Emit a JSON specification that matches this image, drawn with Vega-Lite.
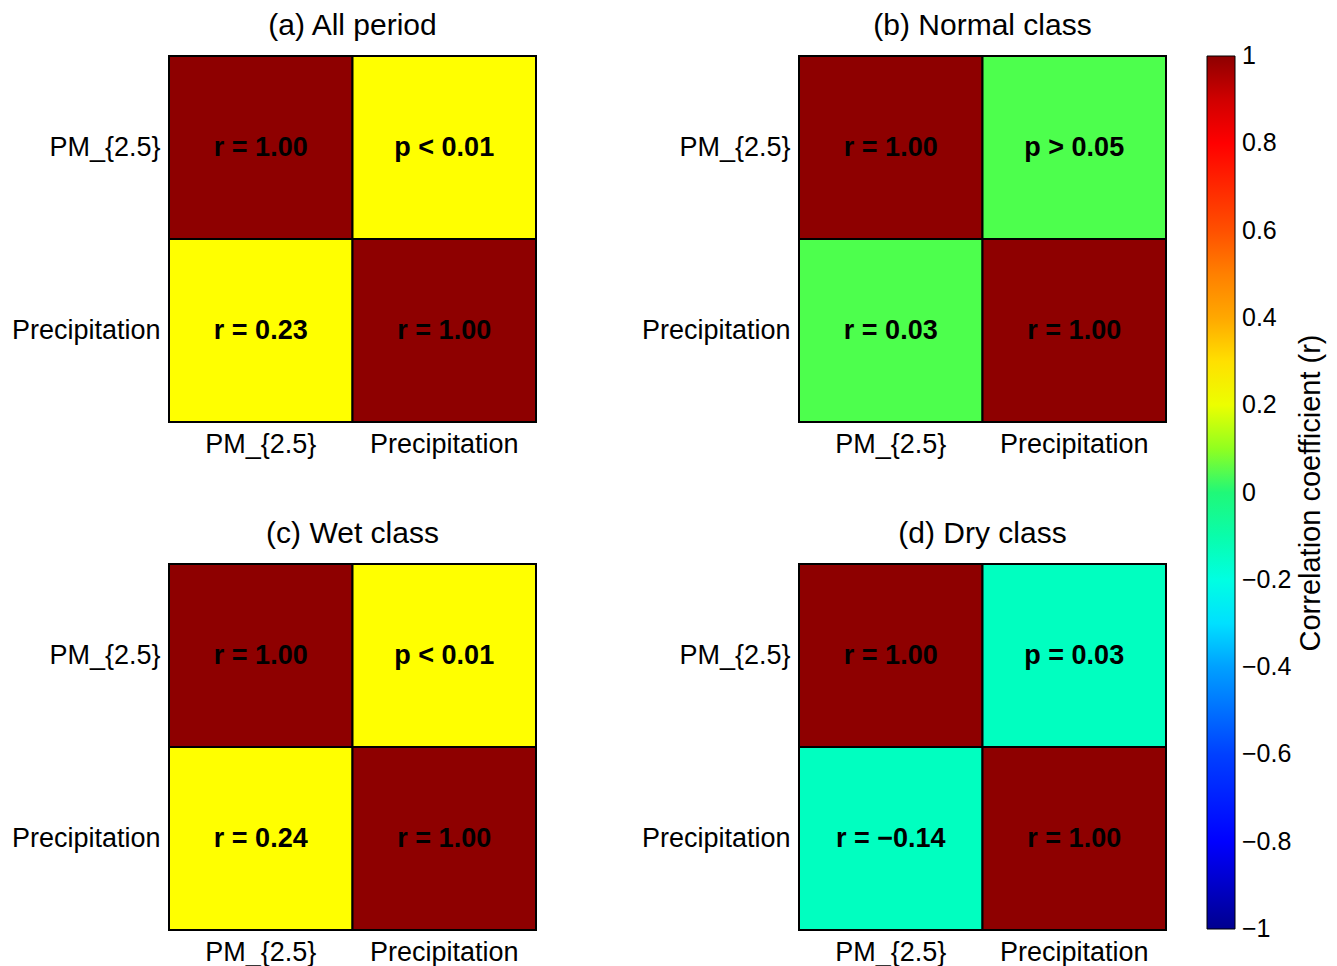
{
  "$schema": "https://vega.github.io/schema/vega-lite/v6.json",
  "padding": {"left": 10, "top": 10, "right": 0, "bottom": 0},
  "background": "white",
  "data": {"values": [
    {"panel": "a", "col": "PM_{2.5}", "row": "PM_{2.5}", "r": 1.0, "label": "r = 1.00"},
    {"panel": "a", "col": "Precipitation", "row": "PM_{2.5}", "r": 0.23, "label": "p < 0.01"},
    {"panel": "a", "col": "PM_{2.5}", "row": "Precipitation", "r": 0.23, "label": "r = 0.23"},
    {"panel": "a", "col": "Precipitation", "row": "Precipitation", "r": 1.0, "label": "r = 1.00"},
    {"panel": "b", "col": "PM_{2.5}", "row": "PM_{2.5}", "r": 1.0, "label": "r = 1.00"},
    {"panel": "b", "col": "Precipitation", "row": "PM_{2.5}", "r": 0.03, "label": "p > 0.05"},
    {"panel": "b", "col": "PM_{2.5}", "row": "Precipitation", "r": 0.03, "label": "r = 0.03"},
    {"panel": "b", "col": "Precipitation", "row": "Precipitation", "r": 1.0, "label": "r = 1.00"},
    {"panel": "c", "col": "PM_{2.5}", "row": "PM_{2.5}", "r": 1.0, "label": "r = 1.00"},
    {"panel": "c", "col": "Precipitation", "row": "PM_{2.5}", "r": 0.24, "label": "p < 0.01"},
    {"panel": "c", "col": "PM_{2.5}", "row": "Precipitation", "r": 0.24, "label": "r = 0.24"},
    {"panel": "c", "col": "Precipitation", "row": "Precipitation", "r": 1.0, "label": "r = 1.00"},
    {"panel": "d", "col": "PM_{2.5}", "row": "PM_{2.5}", "r": 1.0, "label": "r = 1.00"},
    {"panel": "d", "col": "Precipitation", "row": "PM_{2.5}", "r": -0.14, "label": "p = 0.03"},
    {"panel": "d", "col": "PM_{2.5}", "row": "Precipitation", "r": -0.14, "label": "r = \u22120.14"},
    {"panel": "d", "col": "Precipitation", "row": "Precipitation", "r": 1.0, "label": "r = 1.00"}
  ]},
  "columns": 2,
  "spacing": {"row": 60, "column": 102},
  "concat": [
    {
      "title": {"text": "(a) All period"},
      "width": 367, "height": 366,
      "transform": [{"filter": {"field": "panel", "equal": "a"}}],
      "encoding": {
        "x": {"field": "col", "type": "nominal", "sort": ["PM_{2.5}", "Precipitation"], "title": null},
        "y": {"field": "row", "type": "nominal", "sort": ["PM_{2.5}", "Precipitation"], "title": null}
      },
      "layer": [
        {"mark": {"type": "rect", "stroke": "black", "strokeWidth": 2}, "encoding": {"color": {"field": "r", "type": "quantitative", "title": "Correlation coefficient (r)",
          "scale": {"domain": [-1, -0.9, -0.8, -0.6, -0.4, -0.3, -0.25, -0.14, 0, 0.03, 0.1, 0.18, 0.22, 0.25, 0.3, 0.4, 0.5, 0.6, 0.7, 0.8, 0.9, 1],
                    "range": ["#00008F", "#0000C8", "#0000FF", "#0040FF", "#00A0FF", "#00E0FF", "#00FFFF", "#00FFC0", "#20F878", "#4DFF4D", "#90FF20", "#D8FF00", "#FFFF00", "#FFFF00", "#FFE000", "#FFA800", "#FF8000", "#FF5000", "#FF2800", "#FF0000", "#D00000", "#8E0000"], "interpolate": "rgb"},
          "legend": {"orient": "none", "legendX": 1038, "legendY": 0, "direction": "vertical",
            "gradientLength": 873, "gradientThickness": 28, "gradientStrokeColor": "black", "gradientStrokeWidth": 1,
            "values": [-1, -0.8, -0.6, -0.4, -0.2, 0, 0.2, 0.4, 0.6, 0.8, 1], "format": "~g",
            "labelFontSize": 25, "labelColor": "black", "labelOffset": 7, "labelOverlap": false,
            "titleFontSize": 29, "titleFontWeight": "normal", "titleColor": "black", "titleLimit": 1000,
            "titleOrient": "right", "titleAngle": -90, "titleAnchor": "middle", "titleBaseline": "middle", "titlePadding": 20, "padding": 0,
            "encode": {"labels": {"update": {"baseline": {"value": "middle"}}}, "title": {"update": {"angle": {"value": 270}}}}}}}},
        {"mark": {"type": "text", "fontWeight": "bold", "fontSize": 27, "color": "black"}, "encoding": {"text": {"field": "label"}}}
      ]
    },
    {
      "title": {"text": "(b) Normal class"},
      "width": 367, "height": 366,
      "transform": [{"filter": {"field": "panel", "equal": "b"}}],
      "encoding": {
        "x": {"field": "col", "type": "nominal", "sort": ["PM_{2.5}", "Precipitation"], "title": null},
        "y": {"field": "row", "type": "nominal", "sort": ["PM_{2.5}", "Precipitation"], "title": null}
      },
      "layer": [
        {"mark": {"type": "rect", "stroke": "black", "strokeWidth": 2}, "encoding": {"color": {"field": "r", "type": "quantitative", "title": "Correlation coefficient (r)"}}},
        {"mark": {"type": "text", "fontWeight": "bold", "fontSize": 27, "color": "black"}, "encoding": {"text": {"field": "label"}}}
      ]
    },
    {
      "title": {"text": "(c) Wet class"},
      "width": 367, "height": 366,
      "transform": [{"filter": {"field": "panel", "equal": "c"}}],
      "encoding": {
        "x": {"field": "col", "type": "nominal", "sort": ["PM_{2.5}", "Precipitation"], "title": null},
        "y": {"field": "row", "type": "nominal", "sort": ["PM_{2.5}", "Precipitation"], "title": null}
      },
      "layer": [
        {"mark": {"type": "rect", "stroke": "black", "strokeWidth": 2}, "encoding": {"color": {"field": "r", "type": "quantitative", "title": "Correlation coefficient (r)"}}},
        {"mark": {"type": "text", "fontWeight": "bold", "fontSize": 27, "color": "black"}, "encoding": {"text": {"field": "label"}}}
      ]
    },
    {
      "title": {"text": "(d) Dry class"},
      "width": 367, "height": 366,
      "transform": [{"filter": {"field": "panel", "equal": "d"}}],
      "encoding": {
        "x": {"field": "col", "type": "nominal", "sort": ["PM_{2.5}", "Precipitation"], "title": null},
        "y": {"field": "row", "type": "nominal", "sort": ["PM_{2.5}", "Precipitation"], "title": null}
      },
      "layer": [
        {"mark": {"type": "rect", "stroke": "black", "strokeWidth": 2}, "encoding": {"color": {"field": "r", "type": "quantitative", "title": "Correlation coefficient (r)"}}},
        {"mark": {"type": "text", "fontWeight": "bold", "fontSize": 27, "color": "black"}, "encoding": {"text": {"field": "label"}}}
      ]
    }
  ],
  "resolve": {"scale": {"color": "shared"}},
  "config": {
    "font": "Liberation Sans",
    "view": {"stroke": "black", "strokeWidth": 2},
    "scale": {"bandPaddingInner": 0, "bandPaddingOuter": 0},
    "title": {"fontSize": 30, "fontWeight": "normal", "color": "black", "offset": 14, "anchor": "middle"},
    "axis": {"ticks": false, "domain": false, "grid": false, "labelFontSize": 27, "labelColor": "black", "labelPadding": 9, "labelAngle": 0, "labelLimit": 0}
  }
}
